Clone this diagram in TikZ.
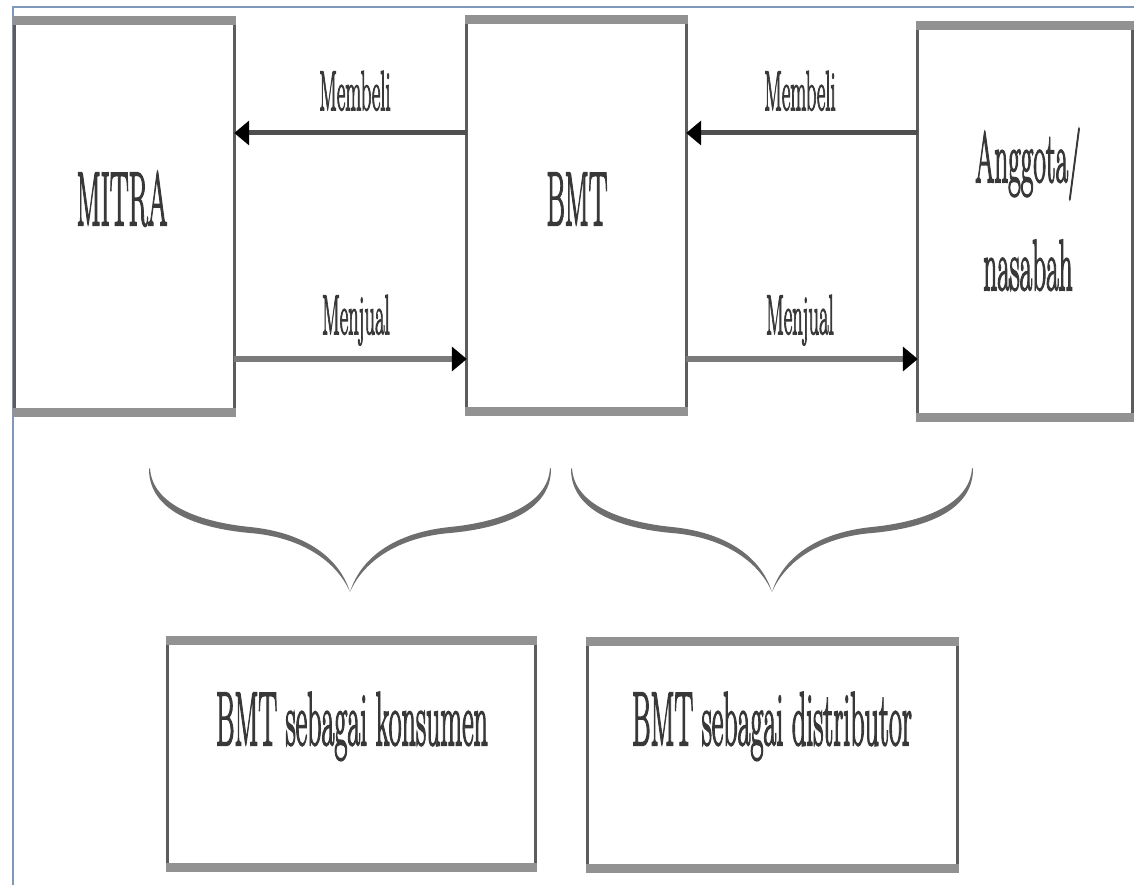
\documentclass[tikz,border=0pt]{standalone}
\usepackage{fontspec}
\usetikzlibrary{arrows.meta}

% a heavier cut of the serif for the lettering
\newfontfamily\heavyserif{Latin Modern Roman}[FakeBold=3]

\definecolor{framecol}{HTML}{7F97B8}
\definecolor{bandcol}{HTML}{929292}
\definecolor{sidecol}{HTML}{5C5C5C}
\definecolor{flowdark}{HTML}{4F4F4F}
\definecolor{flowlight}{HTML}{7A7A7A}
\definecolor{bracecol}{HTML}{6E6E6E}
\definecolor{inkcol}{HTML}{383838}

% condensed serif lettering
\newcommand{\bigtxt}[1]{\scalebox{0.37}[1]{\heavyserif\fontsize{76}{80}\selectfont #1}}
\newcommand{\labeltxt}[1]{\scalebox{0.37}[1]{\heavyserif\fontsize{56}{60}\selectfont #1}}

% frame of a panel: thin dark sides, heavy grey top and bottom bands
\newcommand{\panelframe}[1]{%
  \draw[sideline] (#1.north west) -- (#1.south west) (#1.north east) -- (#1.south east);
  \draw[bandline] ([xshift=-1.5pt]#1.north west) -- ([xshift=1.5pt]#1.north east)
                  ([xshift=-1.5pt]#1.south west) -- ([xshift=1.5pt]#1.south east);}

\begin{document}
\begin{tikzpicture}[x=1pt,y=-1pt,
  panel/.style={draw=none,inner sep=0pt,rectangle},
  sideline/.style={draw=sidecol,line width=3pt},
  bandline/.style={draw=bandcol,line width=9pt},
  txt/.style={inner sep=0pt,anchor=base,text=inkcol},
  tip/.style={-{Triangle[length=15pt,width=24pt,color=black]}},
  buyflow/.style={draw=flowdark,line width=5pt,tip},
  sellflow/.style={draw=flowlight,line width=6pt,tip},
  curlybrace/.pic={
    \foreach \s in {1,-1}{
      \fill[bracecol,xscale=\s]
        (-200,-124) .. controls (-198,-87) and (-150,-70) .. (-100,-65)
        .. controls (-50,-60) and (-12,-38) .. (0,0)
        .. controls (-14,-32) and (-50,-55) .. (-100,-59)
        .. controls (-155,-64) and (-201,-82) .. (-201,-123) -- cycle;
    }
  }]

\useasboundingbox (0,0) rectangle (1134,885);
\fill[white] (0,0) rectangle (1134,885);

% page edge
\draw[framecol,line width=2pt] (13,885) -- (13,7) -- (1134,7);

% panels
\node[panel,minimum width=219pt,minimum height=392pt] (mitra) at (124.5,216.5) {};
\node[panel,minimum width=219pt,minimum height=391pt] (bmt) at (576.5,215.5) {};
\node[panel,minimum width=214pt,minimum height=391pt] (anggota) at (1025,221.5) {};
\node[panel,minimum width=367pt,minimum height=226pt] (konsumen) at (351.5,754) {};
\node[panel,minimum width=369pt,minimum height=226pt] (distributor) at (772.5,755) {};

\panelframe{mitra}
\panelframe{bmt}
\panelframe{anggota}
\panelframe{konsumen}
\panelframe{distributor}

% panel texts
\node[txt] (mitratext) at (122,225) {\bigtxt{MITRA}};
\node[txt] (bmttext) at (577,225) {\bigtxt{BMT}};
\node[txt] (anggotatext) at (1028,182)
  {\scalebox{0.38}[1]{\heavyserif\fontsize{72}{108}\selectfont
   \begin{tabular}[t]{@{}c@{}}Anggota/\\ nasabah\end{tabular}}};
\node[txt] (konsumentext) at (352,745) {\bigtxt{BMT sebagai konsumen}};
\node[txt] (distributortext) at (772,745) {\bigtxt{BMT sebagai distributor}};

% trade flows
\coordinate (buyrow) at (0,133);
\coordinate (sellrow) at (0,359);

\draw[buyflow] (bmt.west |- buyrow) -- (mitra.east |- buyrow);
\draw[sellflow] (mitra.east |- sellrow) -- (bmt.west |- sellrow);
\draw[buyflow] (anggota.west |- buyrow) -- (bmt.east |- buyrow);
\draw[sellflow] (bmt.east |- sellrow) -- (anggota.west |- sellrow);

\node[txt] (buyleft) at (355,110) {\labeltxt{Membeli}};
\node[txt] (sellleft) at (356,334) {\labeltxt{Menjual}};
\node[txt] (buyright) at (800,110) {\labeltxt{Membeli}};
\node[txt] (sellright) at (800,334) {\labeltxt{Menjual}};

% braces gathering each pair of panels
\pic (braceleft) at (350,592) {curlybrace};
\pic (braceright) at (772,592) {curlybrace};

\end{tikzpicture}
\end{document}
